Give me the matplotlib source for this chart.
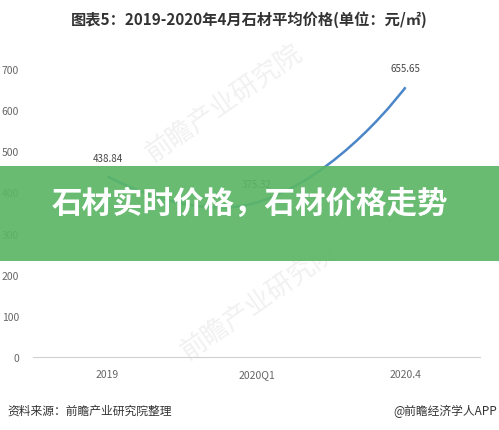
import numpy as np
import matplotlib
matplotlib.use("Agg")
import matplotlib.pyplot as plt
from matplotlib.path import Path
from matplotlib.patches import PathPatch, Rectangle

plt.rcParams["font.family"] = ["Noto Sans CJK SC", "DejaVu Sans"]

# data
categories = ["2019", "2020Q1", "2020.4"]
prices = [438.84, 375.32, 655.65]
y_ticks = [0, 100, 200, 300, 400, 500, 600, 700]

title = "图表5：2019-2020年4月石材平均价格(单位：元/㎡)"
banner = "石材实时价格，石材价格走势"
source = "资料来源：前瞻产业研究院整理"
credit = "@前瞻经济学人APP"

W, H = 499, 431
fig = plt.figure(figsize=(W / 100, H / 100), dpi=100)
fig.patch.set_facecolor("white")

left, right, top, bottom = 33, 480, 70, 358
ax = fig.add_axes([left / W, 1 - bottom / H, (right - left) / W, (bottom - top) / H])
ax.set_xlim(-0.5, len(categories) - 0.5)
ax.set_ylim(0, 700)
ax.patch.set_alpha(0)

# smooth line (bezier, like echarts smooth=true)
xs = np.arange(len(categories), dtype=float)
ys = np.array(prices, dtype=float)
sx = (right - left) / len(categories)
sy = (bottom - top) / 700.0
pts = np.column_stack([xs * sx, ys * sy])
smooth = 0.5
verts = [tuple(pts[0])]
codes = [Path.MOVETO]
n = len(pts)
cps = []
for i in range(n):
    if i == 0 or i == n - 1:
        cps.append((pts[i], pts[i]))
        continue
    prev, cur, nxt = pts[i - 1], pts[i], pts[i + 1]
    v = nxt - prev
    d0 = np.linalg.norm(cur - prev)
    d1 = np.linalg.norm(nxt - cur)
    r = d0 / (d0 + d1)
    cps.append((cur - v * smooth * r, cur + v * smooth * (1 - r)))
for i in range(n - 1):
    c1 = cps[i][1]
    c2 = cps[i + 1][0]
    verts += [tuple(c1), tuple(c2), tuple(pts[i + 1])]
    codes += [Path.CURVE4] * 3
verts = [(vx / sx, vy / sy) for vx, vy in verts]
ax.add_patch(PathPatch(Path(verts, codes), facecolor="none",
                       edgecolor="#4a86c8", linewidth=1.8, zorder=3))

for x, v in zip(xs, prices):
    ax.annotate(f"{v:.2f}", (x, v), xytext=(0, 10), textcoords="offset points",
                ha="center", va="bottom", fontsize=7, color="#444444")

ax.set_xticks(xs)
ax.set_xticklabels(categories)
ax.set_yticks(y_ticks)
for s in ["top", "right", "left"]:
    ax.spines[s].set_visible(False)
ax.spines["bottom"].set_color("#d0d0d0")
ax.tick_params(axis="both", length=0, labelsize=7.5, colors="#666666")
ax.tick_params(axis="x", pad=9)
ax.tick_params(axis="y", pad=10)

# faint watermarks
for (wx, wy, rot) in [(0.45, 0.76, 35), (0.52, 0.30, 35)]:
    fig.text(wx, wy, "前瞻产业研究院", fontsize=19, color="#f1f1f1", rotation=rot,
             ha="center", va="center", zorder=-1)

fig.text(0.5, 1 - 20 / H, title, ha="center", va="center", fontsize=11,
         fontweight="bold", color="#333333")

# green banner over the chart
fig.add_artist(Rectangle((0, 1 - 262 / H), 1, 95 / H, transform=fig.transFigure,
                         facecolor="#5bb665", alpha=0.92, edgecolor="none", zorder=5))
fig.text(0.5, 1 - 204 / H, banner, ha="center", va="center", fontsize=22,
         fontweight=900, color="white", zorder=6)

fig.text(7 / W, 1 - 411 / H, source, ha="left", va="center", fontsize=8.5, color="#333333")
fig.text(497 / W, 1 - 411 / H, credit, ha="right", va="center", fontsize=8.5, color="#333333")

fig.savefig("out.png", dpi=100)
